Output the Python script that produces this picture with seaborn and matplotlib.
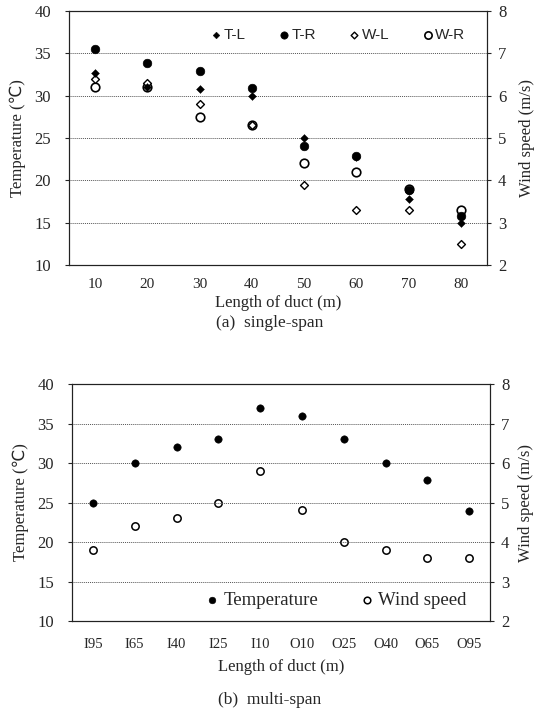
import matplotlib
matplotlib.use("Agg")
import matplotlib.pyplot as plt
import seaborn as sns
import numpy as np
import pandas as pd

# (a) single-span
single_len = ["10", "20", "30", "40", "50", "60", "70", "80"]
temp_left = [32.7, 31.0, 30.8, 30.0, 25.0, 22.8, 17.8, 15.0]
temp_right = [35.5, 33.9, 32.9, 30.9, 24.0, 22.9, 18.9, 15.8]
wind_left = [6.4, 6.3, 5.8, 5.3, 3.9, 3.3, 3.3, 2.5]
wind_right = [6.2, 6.2, 5.5, 5.3, 4.4, 4.2, 3.8, 3.3]

# (b) multi-span
multi_len = ["I95", "I65", "I40", "I25", "I10", "O10", "O25", "O40", "O65", "O95"]
multi_temp = [25, 30, 32, 33, 37, 36, 33, 30, 27.9, 23.9]
multi_wind = [3.8, 4.4, 4.6, 5.0, 5.8, 4.8, 4.0, 3.8, 3.6, 3.6]

sns.set_style("white")
SERIF = ["Liberation Serif", "DejaVu Serif"]
plt.rcParams["font.family"] = SERIF

fig = plt.figure(figsize=(5.39, 7.2), dpi=100)


def style_axes(ax, ax2, n, xpad, rpad):
    ax.set_ylim(10, 40)
    ax.set_yticks(range(10, 41, 5))
    ax2.set_ylim(2, 8)
    ax2.set_yticks(range(2, 9))
    ax.set_xlim(-0.5, n - 0.5)
    ax.set_xticks(np.arange(n))
    ax.set_xticks(np.arange(n - 1) + 0.5, minor=True)
    ax.tick_params(axis="x", which="major", length=0, pad=xpad, labelsize=11)
    ax.tick_params(axis="x", which="minor", length=3, direction="in", width=0.6)
    ax.tick_params(axis="y", length=3, direction="out", labelsize=12, pad=22, left=True)
    ax2.tick_params(axis="y", length=3, direction="out", labelsize=12, pad=5, right=True)
    for label in ax.get_yticklabels():
        label.set_horizontalalignment("left")
    ax.grid(axis="y", linestyle=(0, (1, 1)), color="#555555", linewidth=0.7)
    ax.grid(axis="x", visible=False)
    for a in (ax, ax2):
        for s in a.spines.values():
            s.set_color("#222222")
            s.set_linewidth(0.8)
    ax.set_ylabel("Temperature (℃)", fontsize=12, labelpad=6,
                  family=["Liberation Serif", "DejaVu Sans"])
    ax2.set_ylabel("Wind speed (m/s)", fontsize=12, labelpad=rpad)


# ---- top panel
ax = fig.add_axes([69 / 539, 1 - 265 / 720, 418 / 539, 254 / 720])
ax2 = ax.twinx()
xs = np.arange(len(single_len))
df_a = pd.DataFrame({"x": xs, "tl": temp_left, "tr": temp_right,
                     "wl": wind_left, "wr": wind_right})

sns.scatterplot(data=df_a, x="x", y="wr", ax=ax2, marker="o", s=38,
                facecolor="white", edgecolor="black", linewidth=1.2, label="W-R", zorder=3)
sns.scatterplot(data=df_a, x="x", y="wl", ax=ax2, marker="D", s=16,
                facecolor="white", edgecolor="black", linewidth=1.0, label="W-L", zorder=3)
sns.scatterplot(data=df_a, x="x", y="tr", ax=ax, marker="o", s=38,
                color="black", edgecolor="black", label="T-R", zorder=3)
sns.scatterplot(data=df_a, x="x", y="tl", ax=ax, marker="D", s=16,
                color="black", edgecolor="black", label="T-L", zorder=3)
style_axes(ax, ax2, len(single_len), 9, 9)
ax.set_xticklabels(single_len)
ax.set_xlabel("Length of duct (m)", fontsize=12, labelpad=3)
ax.set_zorder(ax2.get_zorder() + 1)
ax.patch.set_visible(False)

h1, l1 = ax.get_legend_handles_labels()
h2, l2 = ax2.get_legend_handles_labels()
handles = dict(zip(l1 + l2, h1 + h2))
order = ["T-L", "T-R", "W-L", "W-R"]
ax2.get_legend().remove()
ax.legend([handles[k] for k in order], order, ncol=4, loc="upper right",
          bbox_to_anchor=(0.97, 0.97), frameon=False, handlelength=0.8,
          handletextpad=0.1, columnspacing=2.1, markerscale=0.85, borderaxespad=0.2,
          prop={"family": "Liberation Sans", "size": 11})
fig.text(0.5, 1 - 323 / 720, "(a)  single-span", ha="center", va="center",
         fontsize=12.5, family=SERIF)

# ---- bottom panel
bx = fig.add_axes([72 / 539, 1 - 621 / 720, 418 / 539, 237 / 720])
bx2 = bx.twinx()
xb = np.arange(len(multi_len))
df_b = pd.DataFrame({"x": xb, "temp": multi_temp, "wind": multi_wind})
sns.scatterplot(data=df_b, x="x", y="temp", ax=bx, marker="o", s=28,
                color="black", edgecolor="black", label="Temperature", zorder=3)
sns.scatterplot(data=df_b, x="x", y="wind", ax=bx2, marker="o", s=28,
                facecolor="white", edgecolor="black", linewidth=1.1,
                label="Wind speed", zorder=3)
style_axes(bx, bx2, len(multi_len), 12, 6)
bx.set_xticklabels(multi_len, fontsize=10.5)
bx.set_xlabel("Length of duct (m)", fontsize=12, labelpad=6)
bx.set_zorder(bx2.get_zorder() + 1)
bx.patch.set_visible(False)

h1, l1 = bx.get_legend_handles_labels()
h2, l2 = bx2.get_legend_handles_labels()
bx2.get_legend().remove()
bx.legend(h1 + h2, l1 + l2, ncol=2, loc="lower right", bbox_to_anchor=(0.985, -0.02),
          frameon=False, handlelength=0.8, handletextpad=0.2, columnspacing=2.2,
          markerscale=0.9, prop={"family": "Liberation Serif", "size": 13.5})
fig.text(0.5, 1 - 700 / 720, "(b)  multi-span", ha="center", va="center",
         fontsize=12.5, family=SERIF)

fig.savefig("out.png", dpi=100)
